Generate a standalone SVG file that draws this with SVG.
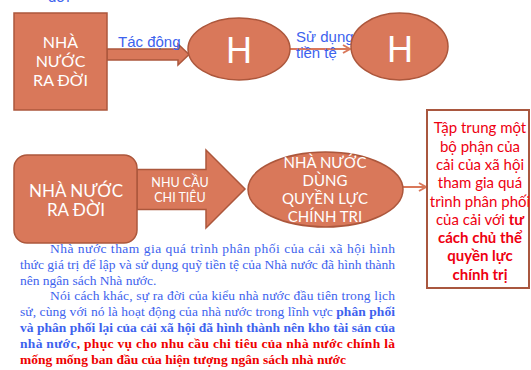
<svg xmlns="http://www.w3.org/2000/svg" width="531" height="370" viewBox="0 0 531 370">
<style>
.shape{fill:#d9785a;stroke:#ac573c;stroke-width:1.5}
.wt{fill:#fff;font-family:Lato,"Open Sans",sans-serif;text-anchor:middle}
.big{font-family:"Liberation Sans",Arial,sans-serif;font-size:36px}
.lbl{fill:#3d62ee;font-family:"Liberation Sans",Arial,sans-serif;font-size:15px}
.para{font-family:"Liberation Serif","Times New Roman",serif;font-size:13.5px;fill:#3d62ee}
.b{font-weight:bold}
.red{fill:#ee0000}
.rt{fill:#ee0011;font-family:Lato,"Open Sans",sans-serif;font-size:15px;text-anchor:middle}
.line{stroke:#d9785a;stroke-width:2;fill:none}
</style>
<defs>
<marker id="chev" markerWidth="10" markerHeight="10" refX="8" refY="5" orient="auto" markerUnits="userSpaceOnUse">
<path d="M1,1 L8,5 L1,9" fill="none" stroke="#d9785a" stroke-width="2"/>
</marker>
</defs>
<text class="lbl" x="48" y="2">đời</text>
<g id="connectors">
<path class="shape" d="M107,49 H178 V44 L189,54.5 L178,65 V60 H107 Z"/>
<line class="line" x1="290" y1="49" x2="350" y2="49" marker-end="url(#chev)"/>
<path class="shape" d="M137,169.5 H206 V150 L245,189 L206,228 V209.5 H137 Z"/>
<line class="line" x1="403" y1="187" x2="426" y2="187" marker-end="url(#chev)"/>
<text class="lbl" x="118" y="47">Tác động</text>
<text class="lbl" x="296" y="42">Sử dụng</text>
<text class="lbl" x="296" y="58">tiền tệ</text>
<text class="wt" x="180" y="187" font-size="12.5">NHU CẦU</text>
<text class="wt" x="180" y="202" font-size="12.5">CHI TIÊU</text>
</g>
<g id="node-box1">
<rect class="shape" x="14" y="13" width="93" height="97"/>
<text class="wt" x="60.5" y="48" font-size="16">NHÀ</text>
<text class="wt" x="60.5" y="67" font-size="16">NƯỚC</text>
<text class="wt" x="60.5" y="86" font-size="16">RA ĐỜI</text>
</g>
<g id="node-h1">
<ellipse class="shape" cx="239" cy="49" rx="51" ry="31"/>
<text class="wt big" x="239" y="63">H</text>
</g>
<g id="node-h2">
<ellipse class="shape" cx="399.5" cy="46.5" rx="48.5" ry="33.5"/>
<text class="wt big" x="400" y="62">H</text>
</g>
<g id="node-box3">
<rect class="shape" x="14" y="155" width="123" height="88" rx="13"/>
<text class="wt" x="76" y="197" font-size="17">NHÀ NƯỚC</text>
<text class="wt" x="76" y="216" font-size="17">RA ĐỜI</text>
</g>
<g id="node-ellipse3">
<ellipse class="shape" cx="325.5" cy="189.5" rx="77.5" ry="37.5"/>
<text class="wt" x="325" y="168" font-size="15">NHÀ NƯỚC</text>
<text class="wt" x="325" y="186" font-size="15">DÙNG</text>
<text class="wt" x="325" y="204" font-size="15">QUYỀN LỰC</text>
<text class="wt" x="325" y="222" font-size="15">CHÍNH TRI</text>
</g>
<g id="node-rightbox">
<rect x="427" y="110" width="102" height="178" fill="#fff" stroke="#a9573f" stroke-width="2"/>
<text class="rt" x="480" y="133">Tập trung một</text>
<text class="rt" x="480" y="152">bộ phận của</text>
<text class="rt" x="480" y="170">cải của xã hội</text>
<text class="rt" x="480" y="188">tham gia quá</text>
<text class="rt" x="480" y="207">trình phân phối</text>
<text class="rt" x="480" y="225">của cải với <tspan class="b">tư</tspan></text>
<text class="rt b" x="480" y="243">cách chủ thể</text>
<text class="rt b" x="480" y="261">quyền lực</text>
<text class="rt b" x="480" y="280">chính trị</text>
</g>
<g id="paragraph">
<text class="para" x="50" y="253" textLength="345" lengthAdjust="spacing">Nhà nước tham gia quá trình phân phối của cải xã hội hình</text>
<text class="para" x="20" y="269" textLength="375" lengthAdjust="spacing">thức giá trị để lập và sử dụng quỹ tiền tệ của Nhà nước đã hình thành</text>
<text class="para" x="20" y="285">nên ngân sách Nhà nước.</text>
<text class="para" x="50" y="300" textLength="345" lengthAdjust="spacing">Nói cách khác, sự ra đời của kiểu nhà nước đầu tiên trong lịch</text>
<text class="para" x="20" y="316" textLength="375" lengthAdjust="spacing">sử, cùng với nó là hoạt động của nhà nước trong lĩnh vực <tspan class="b">phân phối</tspan></text>
<text class="para b" x="20" y="332" textLength="375" lengthAdjust="spacing">và phân phối lại của cải xã hội đã hình thành nên kho tài sản của</text>
<text class="para b" x="20" y="348" textLength="375" lengthAdjust="spacing">nhà nước<tspan class="red">, phục vụ cho nhu cầu chi tiêu của nhà nước chính là</tspan></text>
<text class="para b red" x="20" y="364">mống mống ban đầu của hiện tượng ngân sách nhà nước</text>
</g>
</svg>
